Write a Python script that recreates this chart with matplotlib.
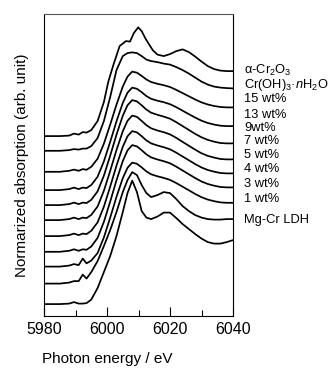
import matplotlib
matplotlib.use('Agg')
import matplotlib.pyplot as plt
import matplotlib.transforms as mtransforms

plt.rcParams['font.family'] = ['Liberation Sans', 'DejaVu Sans']
plt.rcParams['mathtext.fontset'] = 'custom'
plt.rcParams['mathtext.rm'] = 'Liberation Sans'
plt.rcParams['mathtext.it'] = 'Liberation Sans:italic'

# photon energy (eV)
energy = [5980, 5985, 5988, 5989.5, 5991, 5992.3, 5993.5, 5995, 5997, 5999,
          6001, 6003, 6005, 6006.5, 6008, 6009.5, 6011, 6012.5, 6014, 6016,
          6018, 6020, 6022, 6024, 6026, 6028, 6030, 6032, 6034, 6036, 6038, 6040]
energy_cr2o3 = [5980, 5985, 5988, 5989.5, 5991, 5992.3, 5993.5, 5995, 5997, 5999,
                6000.4, 6002, 6004, 6006, 6007.3, 6008.5, 6009.9, 6011, 6012.3, 6014.5,
                6016, 6018, 6020, 6022, 6024, 6026, 6028, 6030, 6032, 6034, 6036, 6038, 6040]

# stacked spectra (already offset), arb. unit
cr2o3 = [180, 180, 180.5, 182.5, 181.5, 184, 183.5, 186, 195, 214,
         234.3, 251, 270, 275, 274.5, 283, 288.7, 285, 277, 266,
         261.5, 260, 262, 265, 266.7, 264, 259.5, 254.5, 250, 247, 245.5, 245, 245]
cr_oh3 = [165.3, 165.3, 166, 167, 166.5, 167.5, 167.5, 170, 178, 195,
          219, 246, 260, 263, 263.7, 263, 260, 256.5, 255, 254,
          252.5, 251.5, 249, 246, 242.5, 238.5, 234.5, 231.5, 229.5, 228.5, 228, 227.7]
wt15 = [144.3, 144.3, 145.3, 146.5, 145.3, 147, 146.3, 149.3, 157.3, 172.4,
        191.4, 211.4, 229.5, 239.5, 244.5, 243.4, 240.2, 236.6, 234.1, 232.3,
        230.9, 229.1, 226.2, 223.0, 219.8, 216.6, 213.7, 211.6, 210.1, 209.1, 208.7, 208.7]
wt13 = [126, 126, 127, 128.5, 127, 128.5, 128, 131.1, 139.3, 154.7,
        174.2, 194.7, 213.1, 223.4, 228.5, 227.3, 223.9, 220.0, 217.3, 215.4,
        213.9, 211.9, 208.9, 205.4, 201.9, 198.5, 195.4, 193.1, 191.5, 190.4, 190, 190]
wt9 = [111, 111, 112, 113.5, 112, 113.5, 113, 116.3, 124.7, 140.4,
       160.4, 181.4, 200.3, 210.8, 216, 214.7, 210.8, 206.5, 203.4, 201.3,
       199.5, 197.4, 193.9, 190.0, 186.1, 182.2, 178.8, 176.2, 174.4, 173.1, 172.7, 172.7]
wt7 = [96, 96, 97, 98.5, 97, 98.5, 98, 101.2, 109.6, 125.3,
       145.1, 166, 184.8, 195.3, 200.5, 199.2, 195.2, 190.9, 187.8, 185.6,
       183.9, 181.7, 178.2, 174.2, 170.3, 166.4, 162.8, 160.2, 158.5, 157.1, 156.7, 156.7]
wt5 = [80, 80, 81, 82.5, 81, 82.5, 82, 85.3, 93.7, 109.4,
       129.4, 150.4, 169.3, 179.8, 185, 183.7, 179.9, 175.7, 172.7, 170.6,
       168.9, 166.8, 163.4, 159.6, 155.8, 152.0, 148.6, 146.1, 144.4, 143.1, 142.7, 142.7]
wt4 = [64.3, 64.3, 65.3, 66.8, 65.3, 66.8, 66.3, 69.6, 78.2, 94.2,
       114.4, 135.8, 155.0, 165.7, 171, 169.7, 165.9, 161.7, 158.7, 156.6,
       154.9, 152.8, 149.4, 145.6, 141.8, 138.0, 134.6, 132.1, 130.4, 129.1, 128.7, 128.7]
wt3 = [49.5, 49.5, 50.5, 52, 51, 57.5, 52.7, 55.5, 63, 78.6,
       98.4, 119.2, 137.9, 148.3, 153.5, 152.3, 148.7, 144.7, 141.8, 139.8,
       138.2, 136.2, 133.0, 129.4, 125.8, 122.1, 118.9, 116.5, 114.9, 113.7, 113.3, 113.3]
wt1 = [32.5, 32.5, 33.5, 35, 35, 41.5, 37.5, 44, 55, 70,
       86, 104, 124, 136, 144, 141, 131, 123, 119, 121,
       124, 123, 117, 110, 105, 101, 98.5, 97, 96.5, 96.5, 97, 97]
ldh = [12, 12, 12.5, 14, 12.5, 12.5, 13, 16.5, 28, 44,
       60, 80, 104, 123, 135.5, 124, 105, 98.5, 97, 99.5,
       103.5, 103.5, 98, 92, 87, 82, 77.5, 74, 72.5, 72.5, 74, 76]

samples = ['α-Cr$_2$O$_3$', 'Cr(OH)$_3$·$n$H$_2$O', '15 wt%', '13 wt%', '9wt%',
           '7 wt%', '5 wt%', '4 wt%', '3 wt%', '1 wt%', 'Mg-Cr LDH']
spectra = [cr2o3, cr_oh3, wt15, wt13, wt9, wt7, wt5, wt4, wt3, wt1, ldh]
energies = [energy_cr2o3] + [energy] * 10

# where the sample names sit on the right
label_y = [245.3, 231, 216.7, 201, 188.3, 175, 161, 146.7, 131.7, 117, 96]

fig = plt.figure(figsize=(3.31, 3.71), dpi=100)
ax = fig.add_axes([0.133, 0.148, 0.571, 0.814])

for x, y in zip(energies, spectra):
    ax.plot(x, y, color='black', lw=1.25)

trans = mtransforms.blended_transform_factory(ax.transAxes, ax.transData)
for name, yl in zip(samples, label_y):
    ax.text(1.058, yl, name, transform=trans, fontsize=9.3, va='center', ha='left')

ax.set_xlim(5980, 6040)
ax.set_ylim(0, 302)
ax.set_xticks([5980, 6000, 6020, 6040])
ax.set_xticks([5990, 6010, 6030], minor=True)
ax.set_yticks([])
ax.tick_params(axis='x', which='major', direction='in', length=6.5, width=0.8,
               labelsize=11.5, pad=4.5)
ax.tick_params(axis='x', which='minor', direction='in', length=4.3, width=0.8)

ax.set_xlabel('Photon energy / eV', fontsize=11)
ax.xaxis.set_label_coords(0.332, -0.12)
ax.set_ylabel('Normarized absorption (arb. unit)', fontsize=11)
ax.yaxis.set_label_coords(-0.08, 0.5)

ax.spines['top'].set_color('#555555')

fig.savefig('out.png', dpi=100)
